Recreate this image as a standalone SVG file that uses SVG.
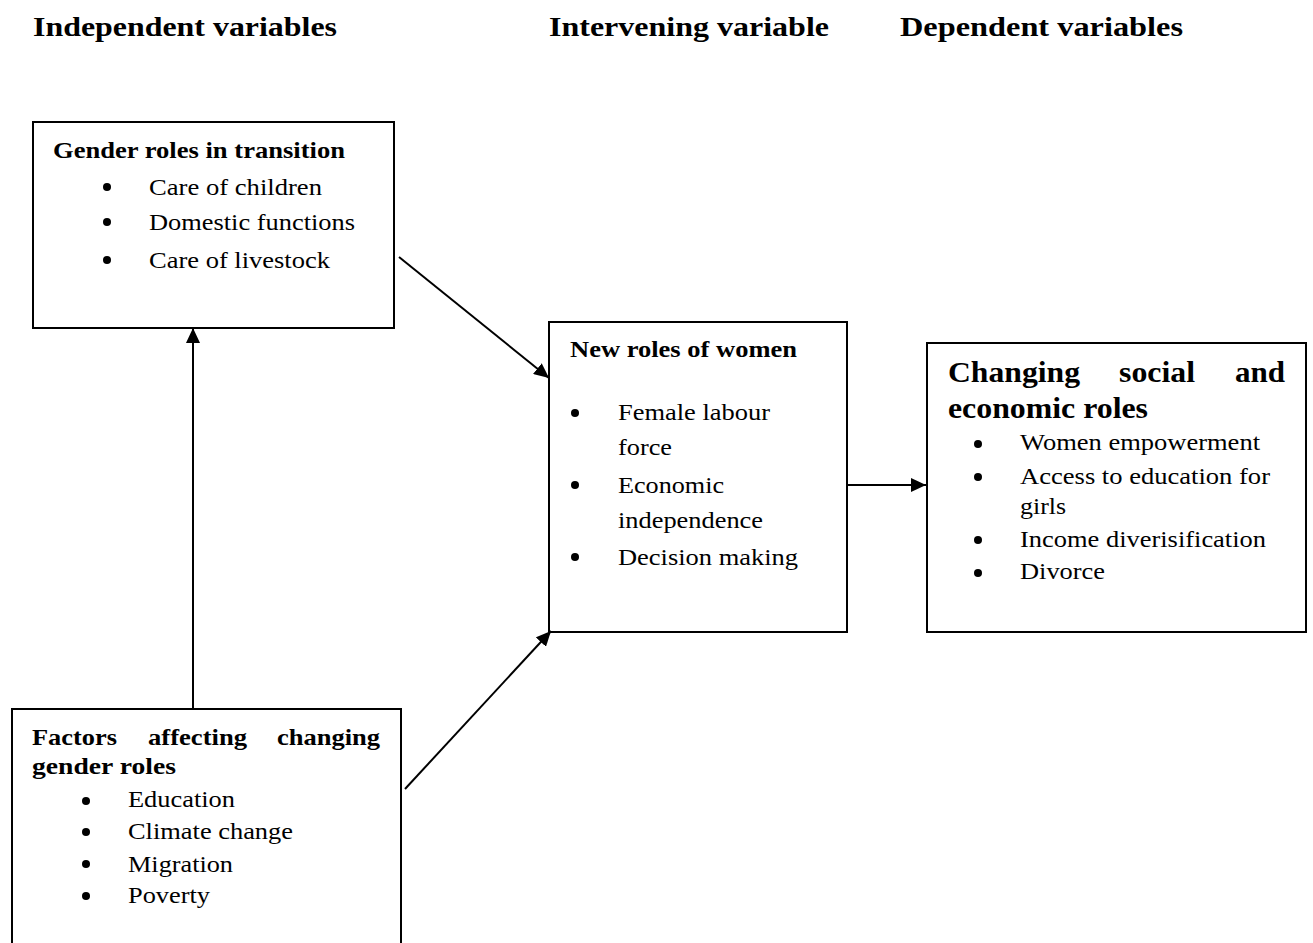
<svg xmlns="http://www.w3.org/2000/svg" width="1313" height="943" viewBox="0 0 1313 943">
<style>
text{font-family:"Liberation Serif","Times New Roman",serif;fill:#000}
.h{font-size:27px;font-weight:bold}
.t{font-size:23px;font-weight:bold}
.t3{font-size:29px;font-weight:bold}
.i{font-size:23px}
.box{fill:#fff;stroke:#000;stroke-width:2}
.ln{fill:none;stroke:#000;stroke-width:2}
</style>
<defs>
<marker id="ah" markerUnits="userSpaceOnUse" markerWidth="16" markerHeight="14" refX="15" refY="7" orient="auto">
<path d="M0,0 L15,7 L0,14 Z" fill="#000"/>
</marker>
</defs>
<rect width="1313" height="943" fill="#fff"/>
<g id="headers">
<text class="h" x="33" y="36" textLength="304" lengthAdjust="spacingAndGlyphs">Independent variables</text>
<text class="h" x="549" y="36" textLength="280" lengthAdjust="spacingAndGlyphs">Intervening variable</text>
<text class="h" x="900" y="36" textLength="283" lengthAdjust="spacingAndGlyphs">Dependent variables</text>
</g>
<g id="gender-roles">
<rect class="box" x="33" y="122" width="361" height="206"/>
<text class="t" x="53" y="158" textLength="292" lengthAdjust="spacingAndGlyphs">Gender roles in transition</text>
<circle cx="107" cy="187" r="4"/>
<text class="i" x="149" y="195" textLength="173" lengthAdjust="spacingAndGlyphs">Care of children</text>
<circle cx="107" cy="222" r="4"/>
<text class="i" x="149" y="230" textLength="206" lengthAdjust="spacingAndGlyphs">Domestic functions</text>
<circle cx="107" cy="260" r="4"/>
<text class="i" x="149" y="268" textLength="181" lengthAdjust="spacingAndGlyphs">Care of livestock</text>
</g>
<g id="new-roles">
<rect class="box" x="549" y="322" width="298" height="310"/>
<text class="t" x="570" y="357" textLength="227" lengthAdjust="spacingAndGlyphs">New roles of women</text>
<circle cx="575" cy="413" r="4"/>
<text class="i" x="618" y="420" textLength="152" lengthAdjust="spacingAndGlyphs">Female labour</text>
<text class="i" x="618" y="455" textLength="54" lengthAdjust="spacingAndGlyphs">force</text>
<circle cx="575" cy="485" r="4"/>
<text class="i" x="618" y="493" textLength="106" lengthAdjust="spacingAndGlyphs">Economic</text>
<text class="i" x="618" y="528" textLength="145" lengthAdjust="spacingAndGlyphs">independence</text>
<circle cx="575" cy="557" r="4"/>
<text class="i" x="618" y="565" textLength="180" lengthAdjust="spacingAndGlyphs">Decision making</text>
</g>
<g id="changing-roles">
<rect class="box" x="927" y="343" width="379" height="289"/>
<text class="t3" x="948" y="382" textLength="132" lengthAdjust="spacingAndGlyphs">Changing</text>
<text class="t3" x="1119" y="382" textLength="76" lengthAdjust="spacingAndGlyphs">social</text>
<text class="t3" x="1235" y="382" textLength="50" lengthAdjust="spacingAndGlyphs">and</text>
<text class="t3" x="948" y="418" textLength="200" lengthAdjust="spacingAndGlyphs">economic roles</text>
<circle cx="978" cy="444" r="4"/>
<text class="i" x="1020" y="450" textLength="240" lengthAdjust="spacingAndGlyphs">Women empowerment</text>
<circle cx="978" cy="477" r="4"/>
<text class="i" x="1020" y="484" textLength="250" lengthAdjust="spacingAndGlyphs">Access to education for</text>
<text class="i" x="1020" y="514" textLength="46" lengthAdjust="spacingAndGlyphs">girls</text>
<circle cx="978" cy="540" r="4"/>
<text class="i" x="1020" y="547" textLength="246" lengthAdjust="spacingAndGlyphs">Income diverisification</text>
<circle cx="978" cy="573" r="4"/>
<text class="i" x="1020" y="579" textLength="85" lengthAdjust="spacingAndGlyphs">Divorce</text>
</g>
<g id="factors">
<rect class="box" x="12" y="709" width="389" height="260"/>
<text class="t" x="32" y="745" textLength="85" lengthAdjust="spacingAndGlyphs">Factors</text>
<text class="t" x="148" y="745" textLength="99" lengthAdjust="spacingAndGlyphs">affecting</text>
<text class="t" x="277" y="745" textLength="103" lengthAdjust="spacingAndGlyphs">changing</text>
<text class="t" x="32" y="774" textLength="144" lengthAdjust="spacingAndGlyphs">gender  roles</text>
<circle cx="86" cy="801" r="4"/>
<text class="i" x="128" y="807" textLength="107" lengthAdjust="spacingAndGlyphs">Education</text>
<circle cx="86" cy="832" r="4"/>
<text class="i" x="128" y="839" textLength="165" lengthAdjust="spacingAndGlyphs">Climate change</text>
<circle cx="86" cy="864" r="4"/>
<text class="i" x="128" y="872" textLength="105" lengthAdjust="spacingAndGlyphs">Migration</text>
<circle cx="86" cy="896" r="4"/>
<text class="i" x="128" y="903" textLength="82" lengthAdjust="spacingAndGlyphs">Poverty</text>
</g>
<g id="connectors">
<line class="ln" x1="193" y1="709" x2="193" y2="328" marker-end="url(#ah)"/>
<line class="ln" x1="399" y1="257" x2="549" y2="378" marker-end="url(#ah)"/>
<line class="ln" x1="405" y1="789" x2="551" y2="631" marker-end="url(#ah)"/>
<line class="ln" x1="847" y1="485" x2="926" y2="485" marker-end="url(#ah)"/>
</g>
</svg>
